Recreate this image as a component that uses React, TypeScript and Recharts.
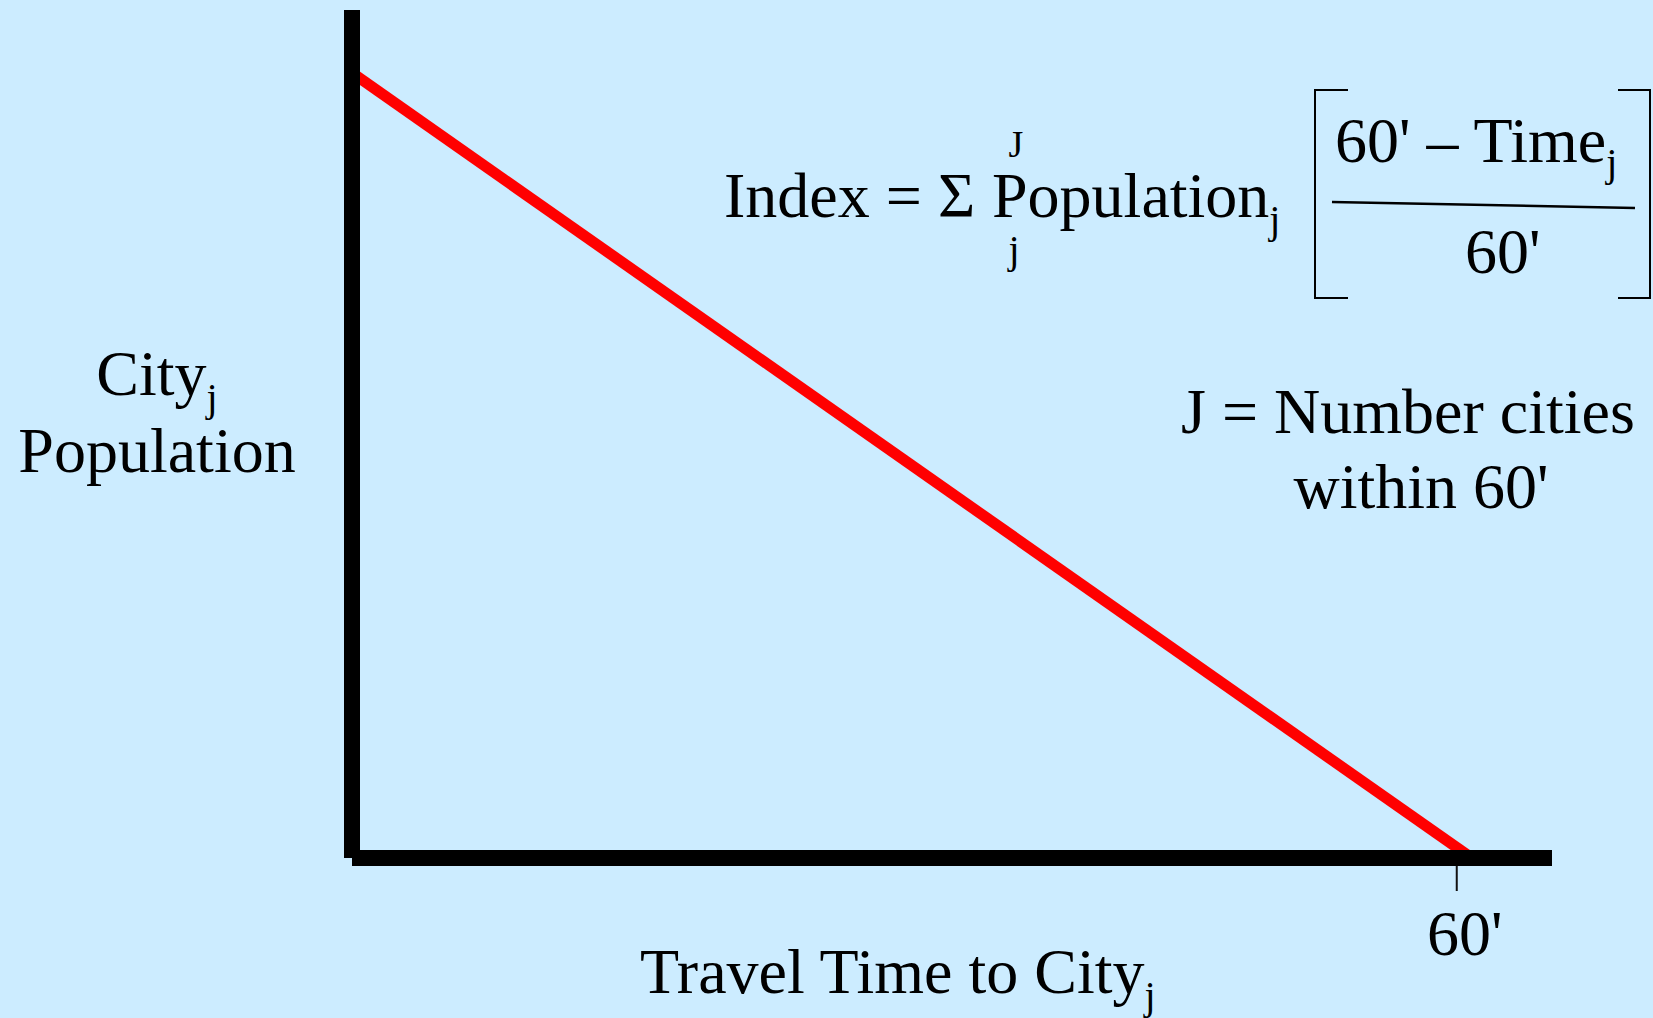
import { LineChart, Line, XAxis, YAxis } from "recharts";

// travel time (minutes) vs. weight given to a city's population
const travelTime = [0, 60];
const populationWeight = [1, 0];
const timeTicks = [60];
const xDomain = [0, 64.3];
const yDomain = [0, 1.08];

const data = travelTime.map((t, i) => ({ time: t, weight: populationWeight[i] }));

const FONT = '"Liberation Serif", "Times New Roman", serif';
const BIG = 64;

function TimeTick({ x, y, payload }: any) {
  return (
    <g>
      <line x1={x - 15} x2={x - 15} y1={y + 8} y2={y + 33} stroke="#111" strokeWidth={2} />
      <text x={x - 7} y={y + 97} textAnchor="middle" fontFamily={FONT} fontSize={BIG} fill="#000">
        {payload.value}'
      </text>
    </g>
  );
}

export default function App() {
  return (
    <div
      style={{
        position: "absolute",
        left: 0,
        top: 0,
        width: 1653,
        height: 1018,
        background: "#CCECFF",
      }}
    >
      <LineChart
        width={1653}
        height={1018}
        data={data}
        margin={{ top: 10, right: 101, left: 342, bottom: 0 }}
      >
        <XAxis
          dataKey="time"
          type="number"
          domain={xDomain}
          ticks={timeTicks}
          height={160}
          tickSize={0}
          tickMargin={0}
          tickLine={false}
          axisLine={{ stroke: "#000", strokeWidth: 16 }}
          tick={<TimeTick />}
        />
        <YAxis
          type="number"
          domain={yDomain}
          width={10}
          tick={false}
          tickLine={false}
          axisLine={{ stroke: "#000", strokeWidth: 16 }}
        />
        <Line
          type="linear"
          dataKey="weight"
          stroke="#FF0000"
          strokeWidth={11}
          dot={false}
          activeDot={false}
          isAnimationActive={false}
        />

        {/* axis titles */}
        <text x={157} y={395} textAnchor="middle" fontFamily={FONT} fontSize={BIG} fill="#000">
          City<tspan fontSize={40} dy={16}>j</tspan>
        </text>
        <text x={157} y={472} textAnchor="middle" fontFamily={FONT} fontSize={BIG} fill="#000">
          Population
        </text>
        <text x={640} y={993} fontFamily={FONT} fontSize={BIG} fill="#000">
          Travel Time to City<tspan fontSize={40} dy={16}>j</tspan>
        </text>

        {/* index formula */}
        <text y={217} fontFamily={FONT} fontSize={BIG} fill="#000">
          <tspan x={724}>Index =</tspan>
          <tspan x={938}>Σ</tspan>
          <tspan x={992}>Population</tspan>
          <tspan fontSize={40} dy={16}>j</tspan>
        </text>
        <text x={1016} y={157} textAnchor="middle" fontFamily={FONT} fontSize={38} fill="#000">
          J
        </text>
        <text x={1014} y={263} textAnchor="middle" fontFamily={FONT} fontSize={40} fill="#000">
          j
        </text>
        <path d="M1348,90 H1315 V298 H1348" fill="none" stroke="#000" strokeWidth={2} />
        <path d="M1618,90 H1650 V298 H1618" fill="none" stroke="#000" strokeWidth={2} />
        <text x={1335} y={162} fontFamily={FONT} fontSize={BIG} fill="#000">
          60' – Time<tspan fontSize={40} dy={14}>j</tspan>
        </text>
        <line x1={1332} y1={202} x2={1635} y2={208} stroke="#000" strokeWidth={2.5} />
        <text x={1465} y={273} fontFamily={FONT} fontSize={BIG} fill="#000">
          60'
        </text>

        <text x={1408} y={433} textAnchor="middle" fontFamily={FONT} fontSize={BIG} fill="#000">
          J = Number cities
        </text>
        <text x={1421} y={508} textAnchor="middle" fontFamily={FONT} fontSize={BIG} fill="#000">
          within 60'
        </text>
      </LineChart>
    </div>
  );
}
